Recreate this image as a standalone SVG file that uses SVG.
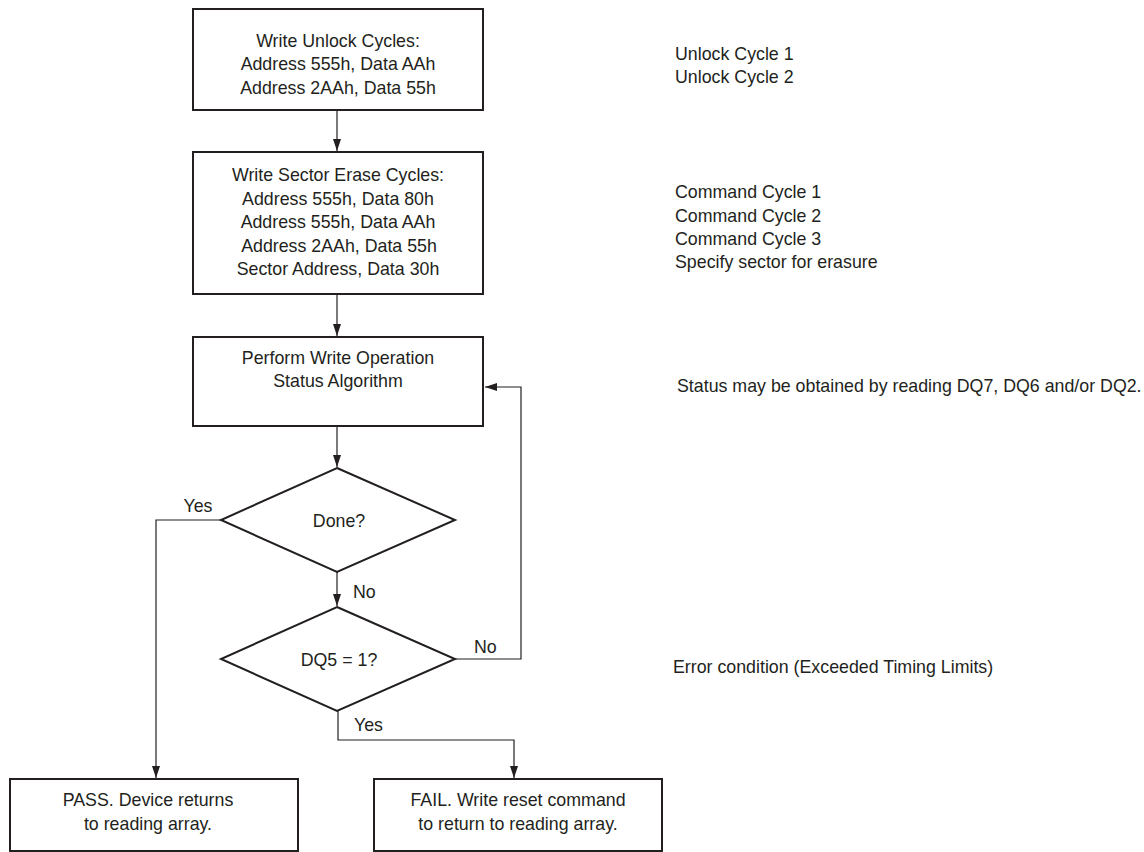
<svg xmlns="http://www.w3.org/2000/svg" width="1144" height="852" viewBox="0 0 1144 852">
<style>
.box{fill:#fff;stroke:#231f20;stroke-width:2}
.con{fill:none;stroke:#231f20;stroke-width:1.2}
text{font-family:"Liberation Sans",Arial,sans-serif;font-size:17.8px;fill:#231f20}
.c{text-anchor:middle}
</style>
<defs>
<marker id="ah" markerUnits="userSpaceOnUse" markerWidth="12" markerHeight="8" refX="12" refY="4" orient="auto">
<path d="M0,0 L12,4 L0,8 z" fill="#231f20"/>
</marker>
</defs>
<rect width="1144" height="852" fill="#fff"/>
<g id="connectors">
<path class="con" d="M337,110 V151" marker-end="url(#ah)"/>
<path class="con" d="M337,294 V336" marker-end="url(#ah)"/>
<path class="con" d="M337,426 V467" marker-end="url(#ah)"/>
<path class="con" d="M337,572 V606" marker-end="url(#ah)"/>
<path class="con" d="M221,520 H156 V778" marker-end="url(#ah)"/>
<path class="con" d="M338,711 V740 H514 V778" marker-end="url(#ah)"/>
<path class="con" d="M455,659 H521 V387 H485" marker-end="url(#ah)"/>
<text x="198" y="512" class="c">Yes</text>
<text x="353" y="598">No</text>
<text x="474" y="653">No</text>
<text x="354" y="731">Yes</text>
</g>
<g id="unlock">
<rect class="box" x="193" y="9" width="290" height="101"/>
<text x="338" y="46.5" class="c">Write Unlock Cycles:</text>
<text x="338" y="70" class="c">Address 555h, Data AAh</text>
<text x="338" y="93.5" class="c">Address 2AAh, Data 55h</text>
</g>
<g id="erase">
<rect class="box" x="193" y="152" width="290" height="142"/>
<text x="338" y="181" class="c">Write Sector Erase Cycles:</text>
<text x="338" y="204.5" class="c">Address 555h, Data 80h</text>
<text x="338" y="228" class="c">Address 555h, Data AAh</text>
<text x="339" y="251.5" class="c">Address 2AAh, Data 55h</text>
<text x="338" y="275" class="c">Sector Address, Data 30h</text>
</g>
<g id="status">
<rect class="box" x="193" y="337" width="290" height="89"/>
<text x="338" y="364" class="c">Perform Write Operation</text>
<text x="338" y="387" class="c">Status Algorithm</text>
</g>
<g id="done">
<polygon class="box" points="337,468 455,520 337,572 221,520"/>
<text x="339" y="527" class="c">Done?</text>
</g>
<g id="dq5">
<polygon class="box" points="337,607 455,659 337,711 221,659"/>
<text x="339" y="666" class="c">DQ5 = 1?</text>
</g>
<g id="pass">
<rect class="box" x="10" y="779" width="288" height="72"/>
<text x="148" y="806" class="c">PASS. Device returns</text>
<text x="148" y="830" class="c">to reading array.</text>
</g>
<g id="fail">
<rect class="box" x="374" y="779" width="288" height="72"/>
<text x="518" y="806" class="c">FAIL. Write reset command</text>
<text x="518" y="830" class="c">to return to reading array.</text>
</g>
<g id="notes">
<text x="675" y="60">Unlock Cycle 1</text>
<text x="675" y="83">Unlock Cycle 2</text>
<text x="675" y="198">Command Cycle 1</text>
<text x="675" y="222">Command Cycle 2</text>
<text x="675" y="245">Command Cycle 3</text>
<text x="675" y="268">Specify sector for erasure</text>
<text x="677" y="392">Status may be obtained by reading DQ7, DQ6 and/or DQ2.</text>
<text x="673" y="673">Error condition (Exceeded Timing Limits)</text>
</g>
</svg>
